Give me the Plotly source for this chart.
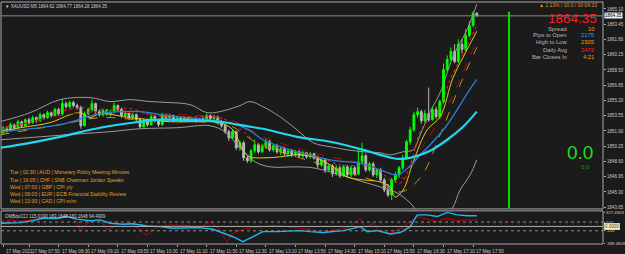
import plotly.graph_objects as go

# ---------------- data ----------------
bar_index = list(range(129))
open_ = [1851.71,1852.25,1851.93,1852.58,1852.25,1852.90,1852.47,1853.12,1852.80,1853.34,
         1853.01,1853.66,1853.34,1853.88,1853.56,1854.21,1853.77,1854.86,1854.53,1854.97,
         1854.64,1854.42,1852.47,1853.77,1854.21,1854.86,1853.99,1853.66,1854.10,1853.77,
         1853.99,1854.64,1854.21,1853.56,1853.88,1853.34,1853.66,1853.12,1852.36,1853.01,
         1852.58,1853.45,1853.01,1852.58,1853.66,1853.34,1853.56,1853.01,1853.34,1853.12,
         1853.34,1853.01,1853.23,1853.01,1853.23,1853.12,1853.56,1853.23,1853.45,1852.80,
         1852.47,1851.82,1851.17,1851.82,1850.08,1850.62,1848.99,1848.67,1849.75,1850.41,
         1849.65,1850.19,1850.73,1849.86,1850.30,1849.65,1849.97,1849.43,1849.75,1849.32,
         1849.65,1849.21,1849.54,1849.10,1849.43,1848.99,1848.23,1848.78,1847.69,1848.12,
         1847.26,1847.91,1847.04,1848.02,1847.15,1847.91,1847.26,1848.56,1849.21,1847.69,
         1848.34,1847.15,1847.69,1846.61,1845.52,1844.98,1846.61,1847.15,1847.91,1848.99,
         1850.73,1852.03,1853.66,1853.99,1853.01,1853.77,1853.12,1854.21,1853.45,1855.08,
         1858.55,1859.64,1860.51,1859.42,1861.27,1860.72,1862.24,1863.33,1864.62]
high = [1852.47,1852.36,1852.80,1852.69,1853.12,1853.01,1853.23,1853.34,1853.56,1853.45,
        1853.88,1853.77,1854.10,1853.99,1854.42,1854.42,1855.40,1855.08,1855.18,1855.18,
        1854.86,1854.64,1853.99,1854.42,1855.29,1854.97,1854.21,1854.32,1854.21,1854.21,
        1854.97,1854.75,1854.42,1854.10,1853.99,1853.88,1853.77,1853.34,1853.23,1853.23,
        1853.77,1853.66,1853.23,1853.88,1853.77,1853.77,1853.66,1853.56,1853.45,1853.45,
        1853.45,1853.34,1853.34,1853.34,1853.45,1853.77,1853.66,1853.66,1853.56,1853.12,
        1852.69,1852.03,1852.03,1851.93,1850.84,1850.84,1849.21,1849.97,1850.95,1850.62,
        1850.51,1851.06,1850.95,1850.51,1850.51,1850.19,1850.19,1849.97,1849.97,1849.86,
        1849.86,1849.75,1849.65,1849.65,1849.54,1849.21,1848.99,1848.89,1848.34,1848.34,
        1848.23,1848.12,1848.23,1848.23,1848.12,1848.12,1849.86,1850.62,1849.43,1848.56,
        1848.56,1847.91,1847.91,1846.82,1846.17,1846.82,1847.47,1848.12,1849.32,1850.95,
        1852.36,1853.99,1854.42,1854.21,1854.21,1856.60,1854.53,1854.53,1855.29,1859.20,
        1860.07,1860.94,1861.27,1861.81,1861.81,1862.90,1863.76,1864.85,1864.77]
low = [1851.49,1851.71,1851.82,1852.03,1852.14,1852.25,1852.36,1852.58,1852.69,1852.80,
       1852.90,1853.12,1853.23,1853.34,1853.45,1853.56,1853.56,1854.32,1854.32,1854.42,
       1854.21,1852.14,1852.36,1853.56,1853.99,1853.77,1853.45,1853.45,1853.56,1853.45,
       1853.77,1853.99,1853.34,1853.34,1853.12,1853.12,1852.90,1852.14,1852.25,1852.36,
       1852.47,1852.80,1852.36,1852.47,1853.12,1853.12,1852.90,1852.90,1852.90,1853.01,
       1852.90,1852.90,1852.80,1852.90,1852.90,1853.01,1853.01,1853.12,1852.58,1852.25,
       1851.60,1850.84,1850.95,1849.86,1849.75,1848.67,1848.45,1848.45,1849.54,1849.43,
       1849.54,1849.97,1849.65,1849.65,1849.43,1849.32,1849.21,1849.10,1849.10,1849.10,
       1848.99,1848.99,1848.89,1848.89,1848.78,1847.91,1848.02,1847.36,1847.47,1846.93,
       1847.04,1846.82,1846.93,1846.82,1846.93,1847.04,1847.15,1848.23,1847.47,1847.47,
       1846.93,1846.82,1846.39,1845.30,1844.76,1844.43,1846.28,1846.82,1847.69,1848.78,
       1850.41,1851.82,1853.34,1852.69,1852.80,1852.90,1853.01,1853.23,1853.23,1854.86,
       1858.33,1859.42,1859.20,1859.20,1860.29,1860.51,1862.03,1863.11,1864.28]
close = [1852.25,1851.93,1852.58,1852.25,1852.90,1852.47,1853.12,1852.80,1853.34,1853.01,
         1853.66,1853.34,1853.88,1853.56,1854.21,1853.77,1854.86,1854.53,1854.97,1854.64,
         1854.42,1852.47,1853.77,1854.21,1854.86,1853.99,1853.66,1854.10,1853.77,1853.99,
         1854.64,1854.21,1853.56,1853.88,1853.34,1853.66,1853.12,1852.36,1853.01,1852.58,
         1853.45,1853.01,1852.58,1853.66,1853.34,1853.56,1853.01,1853.34,1853.12,1853.34,
         1853.01,1853.23,1853.01,1853.23,1853.12,1853.56,1853.23,1853.45,1852.80,1852.47,
         1851.82,1851.17,1851.82,1850.08,1850.62,1848.99,1848.67,1849.75,1850.41,1849.65,
         1850.19,1850.73,1849.86,1850.30,1849.65,1849.97,1849.43,1849.75,1849.32,1849.65,
         1849.21,1849.54,1849.10,1849.43,1848.99,1848.23,1848.78,1847.69,1848.12,1847.26,
         1847.91,1847.04,1848.02,1847.15,1847.91,1847.26,1848.56,1849.21,1847.69,1848.34,
         1847.15,1847.69,1846.61,1845.52,1844.98,1846.61,1847.15,1847.91,1848.99,1850.73,
         1852.03,1853.66,1853.99,1853.01,1853.77,1853.12,1854.21,1853.45,1855.08,1858.55,
         1859.64,1860.51,1859.42,1861.27,1860.72,1862.24,1863.33,1864.62,1864.35]

# moving averages / bands (bar index, price)
ma_slow_x = [-0.8,7.3,15.4,26.2,37.0,42.4,49.7,58.6,66.7,70.2,79.4,88.4,97.3,101.9,106.5,110.0,112.7,115.4,120.0,124.3,128]
ma_slow_y = [1850.08,1850.62,1851.27,1852.25,1852.90,1853.12,1853.07,1852.90,1852.36,1852.14,1851.27,1850.73,1849.86,1849.32,1848.89,1848.99,1849.32,1849.75,1850.95,1852.36,1853.99]
ma_mid_x = [-0.8,15.4,26.2,37.0,44.3,53.2,62.1,66.7,70.2,79.4,88.4,97.3,101.9,106.5,110.0,112.7,115.4,119.4,122.7,125.4,128]
ma_mid_y = [1851.82,1852.58,1853.77,1853.99,1853.56,1853.23,1852.69,1851.93,1850.95,1849.65,1848.78,1848.34,1847.69,1847.15,1848.12,1849.32,1850.41,1852.25,1854.21,1855.95,1857.47]
bb_up_x = [-0.8,7.3,15.4,23.5,28.9,34.3,39.7,45.1,50.5,55.1,58.6,64.0,66.7,70.2,74.8,79.4,83.8,88.4,93.0,97.3,101.9,104.6,108.1,110.8,112.7,115.4,118.1,121.6,125.4,128]
bb_up_y = [1852.90,1853.88,1855.29,1855.51,1855.08,1855.29,1855.08,1854.97,1854.75,1853.88,1853.99,1854.64,1855.08,1854.53,1853.45,1852.03,1850.62,1850.19,1849.86,1849.65,1849.54,1849.32,1849.65,1849.86,1851.49,1853.99,1856.05,1859.96,1862.90,1865.61]
bb_lo_x = [-0.8,10.0,20.8,28.9,37.0,47.0,55.9,59.9,64.0,68.1,72.1,79.4,83.8,88.4,93.0,97.3,101.9,106.5,110.0,114.0,118.1,121.3,123.5,126.2,128]
bb_lo_y = [1850.95,1851.27,1851.60,1851.82,1852.14,1852.25,1852.47,1851.82,1850.08,1848.56,1848.02,1848.02,1847.91,1847.47,1846.93,1846.39,1845.85,1845.19,1844.11,1842.26,1842.04,1843.46,1845.52,1847.15,1848.78]
red_fast_x = [-0.8,7.3,15.4,20.8,26.2,34.3,39.7,45.1,53.2,57.3,61.3,65.4,69.4,74.8,80.2,85.6,91.1,96.5,100.5,104.6,107.3,110.0,112.7,115.4,118.1,120.8,123.5,126.2,128]
red_fast_y = [1852.25,1852.90,1853.99,1854.42,1854.21,1854.32,1853.66,1853.45,1853.45,1853.45,1852.90,1851.71,1850.41,1850.08,1849.65,1849.10,1848.23,1848.12,1847.91,1846.61,1846.28,1848.23,1851.82,1853.34,1854.42,1857.47,1859.64,1861.81,1863.33]
red_slow_x = [-0.8,15.4,26.2,39.7,53.2,61.3,66.7,72.1,80.2,88.4,96.5,104.6,108.6,112.7,118.1,123.5,128]
red_slow_y = [1852.03,1853.56,1853.99,1853.77,1853.56,1853.12,1852.03,1850.95,1849.97,1849.10,1848.45,1847.36,1846.82,1849.86,1853.12,1857.47,1861.81]
yel_x = [-0.8,4.6,12.7,18.1,20.8,23.5,26.2,34.3,39.7,45.1,53.2,58.6,62.1,64.8,66.7,70.2,74.8,79.4,83.8,88.4,93.0,97.3,101.9,104.6,105.9,108.1,110.8,114.6,118.1,121.6,125.4,128]
yel_y = [1851.82,1852.25,1852.80,1853.66,1853.88,1853.34,1853.77,1853.34,1853.12,1852.90,1852.90,1852.80,1852.03,1849.86,1849.10,1848.99,1849.10,1849.32,1849.10,1848.23,1846.93,1846.61,1846.39,1845.84,1844.76,1845.52,1848.56,1852.03,1853.45,1857.68,1860.72,1862.68]
org_x = [-0.8,15.4,26.2,39.7,53.2,61.3,69.4,80.2,91.1,101.9,107.3,112.7,118.1,123.5,128]
org_y = [1851.49,1852.58,1853.34,1853.01,1852.90,1852.47,1850.41,1848.99,1847.69,1846.28,1845.30,1846.82,1851.49,1856.92,1860.94]

# lower indicator window (OMBdoCCI)
cci_red_x = [-0.8,1.9,4.6,7.3,10.8,14.6,17.3,20.0,20.8,23.5,26.2,28.1,31.1,34.5,37.0,38.9,41.6,45.1,49.7,53.2,55.9,57.8,60.5,62.1,65.9,69.4,73.0,76.7,80.2,83.8,85.6,90.2,93.8,96.5,97.8,100.0,101.3,104.6,108.1,111.9,113.5,117.3,120.0,122.7,125.4,128]
cci_red_y = [34,150,110,150,190,150,265,110,-81,110,150,-81,34,73,-81,-197,-5,34,20,-28,110,-10,-352,-158,-43,-5,20,-5,-43,-81,-158,-81,-5,188,-43,73,-81,-158,-5,226,188,110,188,133,150,150]
cci_blue_x = [-0.8,4.6,8.1,10.8,14.6,17.3,20.0,23.5,26.2,28.9,32.4,35.1,38.9,42.4,45.9,49.7,53.2,56.7,58.6,62.1,64.8,70.2,74.0,80.2,82.9,86.5,91.9,96.5,98.4,101.1,104.6,107.3,110.0,111.9,114.6,117.3,120.0,122.7,125.4,128]
cci_blue_y = [73,87,133,188,188,225,166,130,150,73,50,60,11,-5,-43,-43,-28,-65,-120,-236,-350,-120,-120,-97,-120,-140,-97,-5,-120,-97,-174,-140,-5,265,265,226,320,265,245,245]

time_tick_idx = [0,7,15,23,31,39,47,55,63,71,79,87,95,103,111,119,127]
time_tick_text = ["17 May 2021","17 May 07:50","17 May 08:30","17 May 09:10","17 May 09:50",
                  "17 May 10:30","17 May 11:10","17 May 11:50","17 May 12:30","17 May 13:10",
                  "17 May 13:50","17 May 14:30","17 May 15:10","17 May 15:50","17 May 16:30",
                  "17 May 17:10","17 May 17:50"]
price_ticks = [1865.10,1863.45,1861.80,1860.15,1858.50,1856.85,1855.20,1853.55,1851.90,1850.25,1848.60,1846.95,1845.30,1843.65]
osc_ticks = [327.4363,100,-100,-388.4809]
osc_tick_text = ["327.4363","100","-100","-388.4809"]
bid = 1864.35
future_line_idx = 136.7

news = ["Tue | 02:30 | AUD | Monetary Policy Meeting Minutes",
        "Tue | 16:05 | CHF | SNB Chairman Jordan Speaks",
        "Wed | 07:00 | GBP | CPI y/y",
        "Wed | 09:03 | EUR | ECB Financial Stability Review",
        "Wed | 13:30 | CAD | CPI m/m"]
news_y = [1847.47, 1846.65, 1845.88, 1845.10, 1844.33]
info_labels = ["Spread","Pips to Open","High to Low","Daily Avg","Bar Closes In"]
info_values = ["10","2175","2305","2472","4:21"]
info_colors = ["#f0a000","#1ea8ff","#f0a000","#ff2020","#f0a000"]
info_y = [1862.90, 1862.25, 1861.55, 1860.65, 1859.90]

# ---------------- figure ----------------
BG = "#1b1b1b"
AX = "#c8c8c8"
FONT = "Liberation Sans"
TICKF = 4.5

fig = go.Figure()

fig.add_trace(go.Candlestick(
    x=bar_index, open=open_, high=high, low=low, close=close,
    increasing=dict(line=dict(color="#00ff00", width=1), fillcolor="#00ff00"),
    decreasing=dict(line=dict(color="#b8b8b8", width=1), fillcolor="#b8b8b8"),
    whiskerwidth=0, showlegend=False, xaxis="x", yaxis="y"))

def line(xs, ys, color, width=1, dash="solid", yaxis="y", shape="spline"):
    fig.add_trace(go.Scatter(x=xs, y=ys, mode="lines", yaxis=yaxis,
                             line=dict(color=color, width=width, dash=dash, shape=shape),
                             showlegend=False, hoverinfo="skip"))

line(bb_up_x, bb_up_y, "#9a9a9a", 1)
line(bb_lo_x, bb_lo_y, "#9a9a9a", 1)
line(org_x, org_y, "#c8901a", 1, "dash")
line(yel_x, yel_y, "#e8c818", 1)
line(red_slow_x, red_slow_y, "#a01010", 1, "dash")
line(red_fast_x, red_fast_y, "#ff2020", 1, "dot")
line(ma_mid_x, ma_mid_y, "#2a7fd8", 1.3)
line(ma_slow_x, ma_slow_y, "#22d8f0", 2.2)

line(cci_red_x, cci_red_y, "#c00000", 1, yaxis="y2", shape="linear")
line(cci_blue_x, cci_blue_y, "#1ab8f0", 1.4, yaxis="y2", shape="linear")

shapes = []
shapes.append(dict(type="rect", xref="paper", yref="y domain", x0=0, x1=1, y0=0, y1=1,
                   line=dict(color="#a8a8a8", width=1)))
shapes.append(dict(type="rect", xref="paper", yref="y2 domain", x0=0, x1=1, y0=0, y1=1,
                   line=dict(color="#a8a8a8", width=1)))
shapes.append(dict(type="line", xref="paper", yref="y", x0=0, x1=1, y0=bid, y1=bid,
                   line=dict(color="#8a8a8a", width=1)))
shapes.append(dict(type="line", xref="x", yref="y", x0=future_line_idx, x1=future_line_idx,
                   y0=1843.5, y1=1864.8, line=dict(color="#00dd00", width=2)))
for lv, dsh, col in [(100, "dot", "#8a8a8a"), (-100, "dot", "#8a8a8a"), (0, "solid", "#b0b0b0")]:
    shapes.append(dict(type="line", xref="paper", yref="y2", x0=0, x1=1, y0=lv, y1=lv,
                       line=dict(color=col, width=1, dash=dsh)))

ann = []
ann.append(dict(text="▼ XAUUSD,M5 1864.62 1864.77 1864.28 1864.35", xref="paper", yref="paper",
                x=0.004, y=0.999, xanchor="left", yanchor="top", showarrow=False,
                font=dict(size=4.5, color="#d0d0d0", family=FONT)))
ann.append(dict(text="OMBdoCCI 115.0190 183.1648 183.1648 94.4909", xref="paper", yref="y2 domain",
                x=0.004, y=0.98, xanchor="left", yanchor="top", showarrow=False,
                font=dict(size=4.5, color="#d0d0d0", family=FONT)))
for t, yy in zip(news, news_y):
    ann.append(dict(text=t, xref="paper", yref="y", x=0.011, y=yy,
                    xanchor="left", yanchor="middle", showarrow=False,
                    font=dict(size=5.1, color="#e0a028", family=FONT)))
for idx, t in zip(time_tick_idx, time_tick_text):
    ann.append(dict(text=t, xref="x", yref="paper", x=idx, y=-0.012, xanchor="left", yanchor="top",
                    xshift=1, showarrow=False, font=dict(size=4.6, color=AX, family=FONT)))
ann.append(dict(text="▲ 1.13% / 10.0 / 00:04:23", xref="paper", yref="y", x=0.993, y=1865.55,
                xanchor="right", yanchor="middle", showarrow=False,
                font=dict(size=5.0, color="#e09020", family=FONT)))
ann.append(dict(text="1864.35", xref="paper", yref="y", x=0.993, y=1864.10,
                xanchor="right", yanchor="middle", showarrow=False,
                font=dict(size=13.5, color="#ff2020", family=FONT)))
for lab, val, col, yy in zip(info_labels, info_values, info_colors, info_y):
    ann.append(dict(text=lab, xref="paper", yref="y", x=0.943, y=yy, xanchor="right", yanchor="middle",
                    showarrow=False, font=dict(size=5.8, color="#b8b8b8", family=FONT)))
    ann.append(dict(text=val, xref="paper", yref="y", x=0.988, y=yy, xanchor="right", yanchor="middle",
                    showarrow=False, font=dict(size=5.8, color=col, family=FONT)))
ann.append(dict(text="0.0", xref="paper", yref="y", x=0.987, y=1849.55, xanchor="right", yanchor="middle",
                showarrow=False, font=dict(size=19, color="#22dd22", family=FONT)))
ann.append(dict(text="0.0", xref="paper", yref="y", x=0.981, y=1847.95, xanchor="right", yanchor="middle",
                showarrow=False, font=dict(size=6, color="#1a9a1a", family=FONT)))
ann.append(dict(text="1864.35", xref="paper", yref="y", x=1.0, y=bid, xanchor="left", yanchor="middle",
                xshift=1, showarrow=False, bgcolor="#f0f0f0", borderpad=0,
                font=dict(size=TICKF, color="#000000", family=FONT)))
ann.append(dict(text="0.0000", xref="paper", yref="y2", x=1.0, y=0, xanchor="left", yanchor="middle",
                xshift=1, showarrow=False, bgcolor="#fff4c0", bordercolor="#d0d0d0", borderpad=0,
                font=dict(size=TICKF, color="#303030", family=FONT)))

fig.update_layout(
    width=625, height=254, autosize=False,
    margin=dict(l=1, r=22, t=2, b=10, pad=0),
    paper_bgcolor=BG, plot_bgcolor=BG,
    showlegend=False, shapes=shapes, annotations=ann,
    xaxis=dict(range=[-0.57, 162.1], showgrid=False, zeroline=False, anchor="y2", automargin=False,
               tickvals=time_tick_idx, ticks="outside", ticklen=2, tickcolor="#a8a8a8",
               showticklabels=False, rangeslider=dict(visible=False), fixedrange=True),
    yaxis=dict(domain=[0.145, 1], range=[1843.47, 1865.85], side="right", anchor="x", automargin=False,
               tickvals=price_ticks, ticktext=[f"{v:.2f}" for v in price_ticks],
               ticks="outside", ticklen=2, tickcolor="#a8a8a8", showgrid=False, zeroline=False,
               tickfont=dict(size=TICKF, color=AX, family=FONT)),
    yaxis2=dict(domain=[0, 0.137], range=[-402, 356], side="right", anchor="x", automargin=False,
                tickvals=osc_ticks, ticktext=osc_tick_text,
                ticks="outside", ticklen=1, tickcolor="#a8a8a8", showgrid=False, zeroline=False,
                tickfont=dict(size=4.3, color=AX, family=FONT)),
)

fig.write_html("out.html")
